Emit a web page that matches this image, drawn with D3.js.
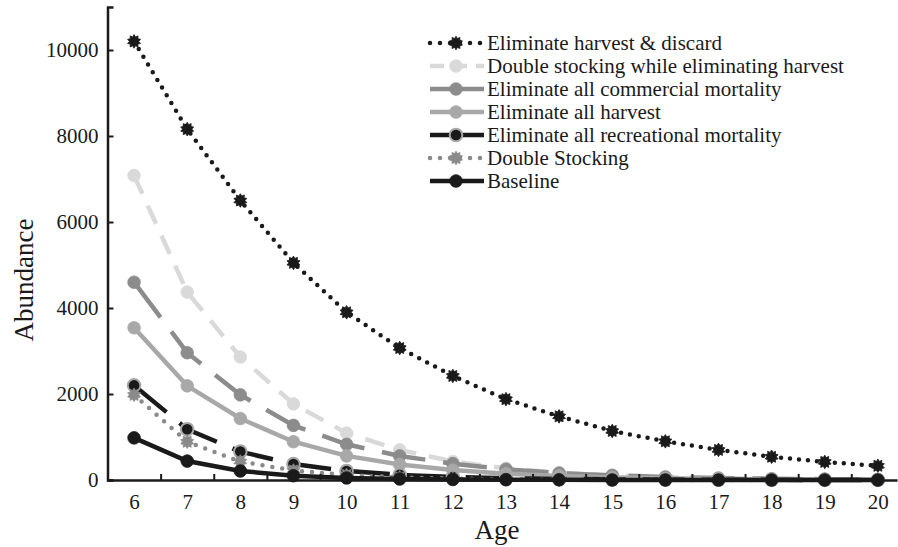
<!DOCTYPE html>
<html>
<head>
<meta charset="utf-8">
<script src="https://cdn.jsdelivr.net/npm/d3@7"></script>
<style>
  body { margin: 0; background: #fff; }
</style>
</head>
<body>
<div class="chart"></div>
<script>
const ages = [6, 7, 8, 9, 10, 11, 12, 13, 14, 15, 16, 17, 18, 19, 20];
const yTicks = [0, 2000, 4000, 6000, 8000, 10000];

const harvestDiscard = [10200, 8160, 6500, 5050, 3900, 3070, 2420, 1880, 1480, 1140, 900, 700, 540, 420, 330];
const doubleStockNoHarvest = [7080, 4370, 2860, 1770, 1090, 700, 430, 270, 170, 100, 65, 40, 25, 15, 10];
const noCommercial = [4600, 2960, 1980, 1270, 830, 560, 380, 250, 160, 110, 70, 45, 30, 20, 12];
const noHarvest = [3540, 2190, 1430, 890, 560, 360, 230, 145, 95, 60, 38, 25, 16, 10, 6];
const noRecreational = [2200, 1180, 660, 370, 210, 120, 70, 40, 25, 15, 9, 5, 3, 2, 1];
const doubleStock = [1980, 890, 430, 220, 115, 60, 32, 17, 9, 5, 3, 2, 1, 1, 0];
const baseline = [980, 440, 210, 100, 48, 23, 11, 5, 3, 1, 1, 0, 0, 0, 0];

const seriesNames = [
  "Eliminate harvest & discard",
  "Double stocking while eliminating harvest",
  "Eliminate all commercial mortality",
  "Eliminate all harvest",
  "Eliminate all recreational mortality",
  "Double Stocking",
  "Baseline"
];
const seriesValues = [harvestDiscard, doubleStockNoHarvest, noCommercial, noHarvest, noRecreational, doubleStock, baseline];

const serif = "'Liberation Serif', 'Times New Roman', 'DejaVu Serif', serif";

// look of each series
const styles = [
  { color: "#1a1a1a", width: 4.5, dash: "0,9", legendDash: "0,10", marker: "star", fill: "#1a1a1a", stroke: "#1a1a1a" },
  { color: "#d9d9d9", width: 4.5, dash: "20,13", legendDash: "14,9", marker: "circle", fill: "#d9d9d9", stroke: "#d9d9d9" },
  { color: "#8c8c8c", width: 4.5, dash: "44,18", legendDash: null, marker: "circle", fill: "#8c8c8c", stroke: "#8c8c8c" },
  { color: "#a8a8a8", width: 4.5, dash: null, legendDash: null, marker: "circle", fill: "#a8a8a8", stroke: "#a8a8a8" },
  { color: "#1a1a1a", width: 4.5, dash: "42,17", legendDash: null, marker: "circle", fill: "#1a1a1a", stroke: "#a8a8a8" },
  { color: "#8a8a8a", width: 4.5, dash: "0,10", legendDash: "0,10", marker: "star", fill: "#8a8a8a", stroke: "#8a8a8a" },
  { color: "#1a1a1a", width: 4.5, dash: null, legendDash: null, marker: "circle", fill: "#1a1a1a", stroke: "#1a1a1a" }
];

const width = 898, height = 547;

const x = d3.scaleLinear().domain([5.5, 20.36]).range([107.5, 897]);
const y = d3.scaleLinear().domain([0, 11000]).range([480, 7]);

const svg = d3.select(".chart").append("svg")
  .attr("width", width)
  .attr("height", height);

// spiky star symbol
const starSymbol = {
  draw(ctx, size) {
    const ro = Math.sqrt(size / Math.PI) * 1.15, ri = ro * 0.68, n = 10;
    for (let i = 0; i < n * 2; i++) {
      const r = i % 2 ? ri : ro;
      const a = (i * Math.PI) / n;
      if (i === 0) ctx.moveTo(r * Math.sin(a), -r * Math.cos(a));
      else ctx.lineTo(r * Math.sin(a), -r * Math.cos(a));
    }
    ctx.closePath();
  }
};
const symStar = d3.symbol().type(starSymbol).size(110);
const symCircle = d3.symbol().type(d3.symbolCircle).size(125);

const line = d3.line()
  .x((d) => x(d[0]))
  .y((d) => y(d[1]));

const isDotted = (dash) => dash && dash.startsWith("0");

// series
seriesValues.forEach((vals, i) => {
  const st = styles[i];
  const pts = ages.map((a, j) => [a, vals[j]]);
  const g = svg.append("g");
  g.append("path")
    .datum(pts)
    .attr("d", line)
    .attr("fill", "none")
    .attr("stroke", st.color)
    .attr("stroke-width", st.width)
    .attr("stroke-linecap", isDotted(st.dash) ? "round" : "butt")
    .attr("stroke-dasharray", st.dash);
  g.selectAll("path.m")
    .data(pts)
    .enter()
    .append("path")
    .attr("class", "m")
    .attr("transform", (d) => `translate(${x(d[0])},${y(d[1])})`)
    .attr("d", st.marker === "star" ? symStar : symCircle)
    .attr("fill", st.fill)
    .attr("stroke", st.stroke)
    .attr("stroke-width", st.stroke !== st.fill ? 2 : 0.8);
});

// axes
const yAxis = d3.axisLeft(y).tickValues(yTicks).tickSize(-6).tickPadding(9).tickFormat(d3.format("d"));
const yg = svg.append("g").attr("transform", `translate(${x(5.5)},0)`).call(yAxis);
yg.select(".domain").attr("stroke-width", 2.5).attr("stroke", "#1a1a1a");
yg.selectAll(".tick line").attr("stroke-width", 2).attr("stroke", "#1a1a1a");
yg.selectAll(".tick text").style("font-family", serif).style("font-size", "21px").attr("fill", "#1a1a1a");

const xLabels = d3.axisBottom(x).tickValues(ages).tickSize(0).tickPadding(14).tickFormat(d3.format("d"));
const xg = svg.append("g").attr("transform", `translate(0,${y(0)})`).call(xLabels);
xg.select(".domain").attr("stroke-width", 2.5).attr("stroke", "#1a1a1a");
xg.selectAll(".tick text").style("font-family", serif).style("font-size", "21px").attr("fill", "#1a1a1a");

const xMarks = d3.axisBottom(x).tickValues(ages.slice(0, -1).map((a) => a + 0.5)).tickSize(-6).tickFormat("");
const xm = svg.append("g").attr("transform", `translate(0,${y(0)})`).call(xMarks);
xm.select(".domain").remove();
xm.selectAll(".tick line").attr("stroke-width", 2).attr("stroke", "#1a1a1a");

// axis titles
svg.append("text")
  .attr("x", 497)
  .attr("y", 539)
  .attr("text-anchor", "middle")
  .style("font-family", serif)
  .style("font-size", "27px")
  .attr("fill", "#1a1a1a")
  .text("Age");

svg.append("text")
  .attr("transform", "translate(33,280) rotate(-90)")
  .attr("text-anchor", "middle")
  .style("font-family", serif)
  .style("font-size", "27px")
  .attr("fill", "#1a1a1a")
  .text("Abundance");

// legend
const legend = svg.append("g").attr("transform", "translate(428,43)");
seriesNames.forEach((name, i) => {
  const st = styles[i];
  const row = legend.append("g").attr("transform", `translate(0,${i * 23})`);
  row.append("line")
    .attr("x1", 2).attr("x2", 56)
    .attr("stroke", st.color)
    .attr("stroke-width", st.width)
    .attr("stroke-linecap", isDotted(st.legendDash) ? "round" : "butt")
    .attr("stroke-dasharray", st.legendDash);
  row.append("path")
    .attr("transform", "translate(28,0)")
    .attr("d", st.marker === "star" ? symStar : symCircle)
    .attr("fill", st.fill)
    .attr("stroke", st.stroke)
    .attr("stroke-width", st.stroke !== st.fill ? 2 : 0.8);
  row.append("text")
    .attr("x", 59)
    .attr("y", 7)
    .style("font-family", serif)
    .style("font-size", "21px")
    .attr("fill", "#1a1a1a")
    .text(name);
});
</script>
</body>
</html>
